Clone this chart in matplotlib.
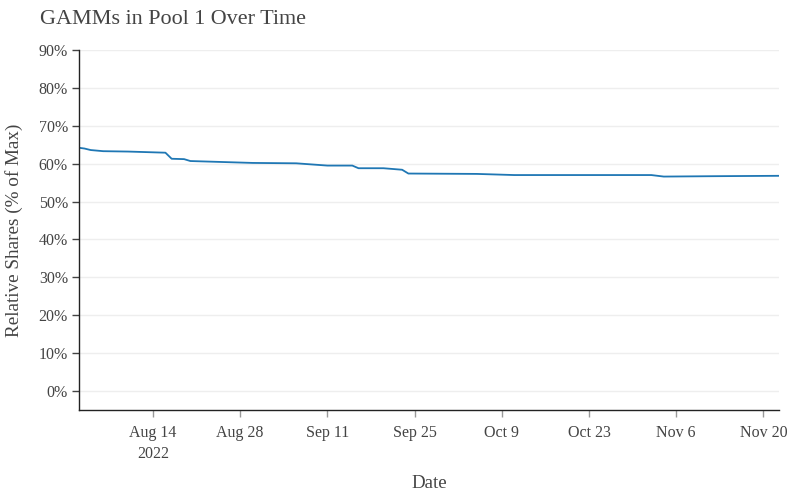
import matplotlib
matplotlib.use('Agg')
import matplotlib.pyplot as plt
import pandas as pd

# values
dates = ['2022-08-02 03:00', '2022-08-03', '2022-08-04', '2022-08-06', '2022-08-10',
         '2022-08-16', '2022-08-17', '2022-08-19', '2022-08-20', '2022-08-24',
         '2022-08-30', '2022-09-06', '2022-09-11', '2022-09-15', '2022-09-16',
         '2022-09-20', '2022-09-23', '2022-09-24', '2022-10-05', '2022-10-11',
         '2022-11-02', '2022-11-04', '2022-11-12', '2022-11-22 12:00']
shares = [64.2, 64.0, 63.6, 63.3, 63.2,
          62.9, 61.3, 61.2, 60.7, 60.5,
          60.2, 60.1, 59.5, 59.5, 58.8,
          58.8, 58.4, 57.4, 57.3, 57.0,
          57.0, 56.6, 56.7, 56.8]
tick_dates = ['2022-08-14', '2022-08-28', '2022-09-11', '2022-09-25',
              '2022-10-09', '2022-10-23', '2022-11-06', '2022-11-20']
tick_labels = ['Aug 14\n2022', 'Aug 28', 'Sep 11', 'Sep 25',
               'Oct 9', 'Oct 23', 'Nov 6', 'Nov 20']
y_ticks = list(range(0, 91, 10))

x = pd.to_datetime(dates, format='mixed')
txt = '#444444'
plt.rcParams['font.family'] = ['Liberation Serif', 'DejaVu Serif']

fig = plt.figure(figsize=(8, 5), dpi=100)
ax = fig.add_axes([79 / 800, 90 / 500, 700 / 800, 360 / 500])

ax.plot(x, shares, color='#1f77b4', lw=1.3)

ax.set_xlim(x[0], x[-1])
ax.set_ylim(-5, 90)
ax.set_yticks(y_ticks)
ax.set_yticklabels([f'{v}%' for v in y_ticks])
ax.set_xticks(pd.to_datetime(tick_dates))
ax.set_xticklabels(tick_labels, linespacing=1.4)

ax.grid(axis='y', color='#eeeeee', lw=1)
ax.set_axisbelow(True)
for s in ['top', 'right']:
    ax.spines[s].set_visible(False)
for s in ['left', 'bottom']:
    ax.spines[s].set_color('#222222')
    ax.spines[s].set_linewidth(1)

ax.tick_params(axis='both', direction='out', length=5, width=1,
               labelsize=11.5, labelcolor=txt)
ax.tick_params(axis='y', color='#444444', pad=3)
ax.tick_params(axis='x', color='#999999', pad=6)

ax.set_xlabel('Date', fontsize=13.6, color=txt, labelpad=9)
ax.set_ylabel('Relative Shares (% of Max)', fontsize=13.8, color=txt, labelpad=11)
fig.text(40 / 800, 1 - 19 / 500, 'GAMMs in Pool 1 Over Time', fontsize=15.9,
         color=txt, ha='left', va='center')

fig.savefig('out.png', dpi=100)
